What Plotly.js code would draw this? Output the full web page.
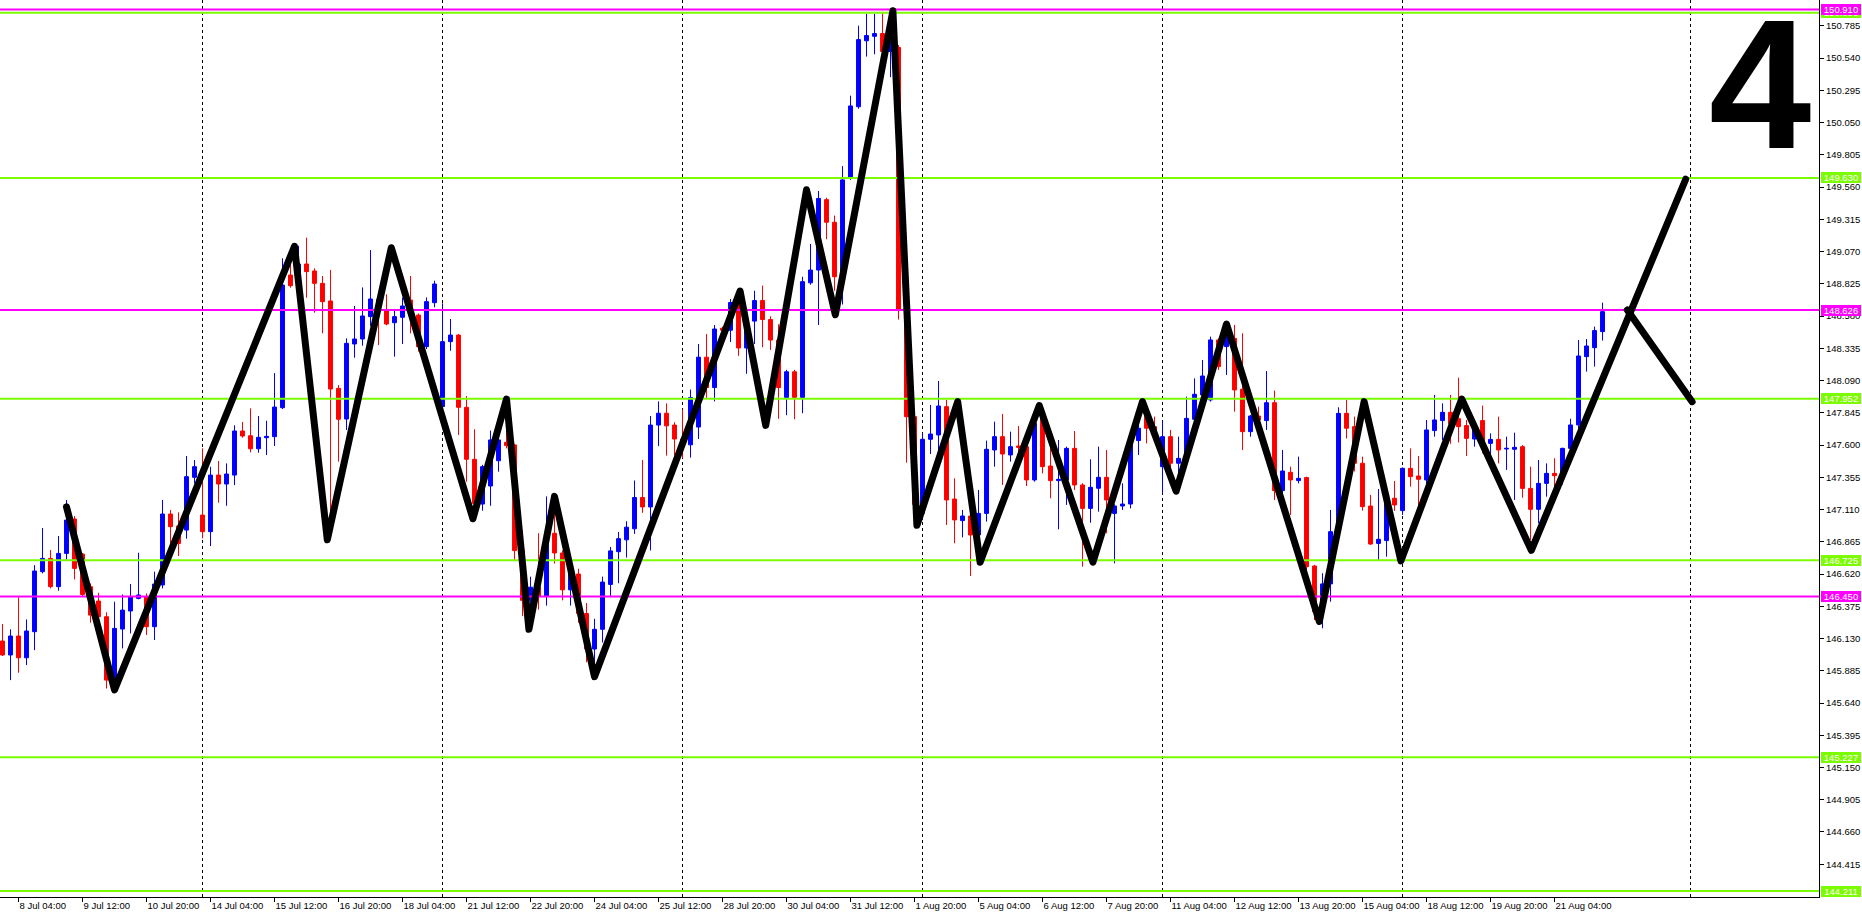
<!DOCTYPE html>
<html>
<head>
<meta charset="utf-8">
<script src="https://cdn.plot.ly/plotly-3.0.1.min.js"></script>
<style>
  html, body { margin: 0; padding: 0; background: #ffffff; }
  #chart { width: 1862px; height: 918px; }
  .scatterlayer .js-line { stroke-linejoin: round !important; stroke-linecap: round !important; }
</style>
</head>
<body>
<div id="chart"></div>
<script>
// ---------------- DATA ----------------
// Time-axis labels, one every 8 H4 bars, first label at bar 0
const tickLabels = ['8 Jul 04:00','9 Jul 12:00','10 Jul 20:00','14 Jul 04:00','15 Jul 12:00','16 Jul 20:00',
  '18 Jul 04:00','21 Jul 12:00','22 Jul 20:00','24 Jul 04:00','25 Jul 12:00','28 Jul 20:00','30 Jul 04:00',
  '31 Jul 12:00','1 Aug 20:00','5 Aug 04:00','6 Aug 12:00','7 Aug 20:00','11 Aug 04:00','12 Aug 12:00',
  '13 Aug 20:00','15 Aug 04:00','18 Aug 12:00','19 Aug 20:00','21 Aug 04:00'];
const barsPerLabel = 8;
const firstBar = -2;   // first visible bar is two bars before "8 Jul 04:00"

// OHLC (bars -2 .. 198)
const open = [
  146.111,146.005,146.149,145.984,146.182,146.638,146.739,146.524,146.777,147.038,
  146.772,146.524,146.415,146.296,145.814,146.202,146.339,146.435,146.448,146.220,
  146.537,147.076,146.985,146.954,147.355,147.068,146.942,147.372,147.304,147.372,
  147.707,147.671,147.572,147.656,147.664,147.884,148.892,148.811,148.976,148.923,
  148.829,148.695,148.031,147.798,148.368,148.406,148.576,148.707,148.619,148.530,
  148.571,148.702,148.588,148.348,148.682,147.892,148.386,148.436,147.887,147.492,
  147.152,147.289,147.481,147.621,147.601,146.800,146.420,146.520,146.450,146.930,
  146.780,146.500,146.620,146.320,146.050,146.200,146.541,146.790,146.880,146.964,
  147.202,147.130,147.752,147.842,147.752,147.646,147.602,147.737,148.268,148.037,
  148.488,148.473,148.683,148.338,148.542,148.698,148.554,148.398,147.962,148.157,
  147.962,148.833,148.930,149.465,149.293,148.879,149.630,150.171,150.672,150.706,
  150.727,150.591,150.621,148.620,147.816,147.081,147.644,147.677,147.892,147.190,
  147.026,147.061,146.917,147.081,147.563,147.664,147.525,147.593,147.588,147.335,
  147.816,147.441,147.330,147.335,147.575,147.297,147.119,147.272,147.355,147.081,
  147.137,147.152,147.634,147.816,147.740,147.436,147.664,147.462,147.499,147.796,
  147.981,147.943,148.399,148.348,148.411,148.024,147.702,147.821,147.786,147.922,
  147.254,147.393,147.330,147.353,146.681,146.334,146.545,146.942,147.841,147.740,
  147.462,147.137,146.853,146.874,147.196,147.102,147.423,147.365,147.335,147.710,
  147.786,147.849,147.800,147.748,147.646,147.786,147.613,147.643,147.570,147.568,
  147.588,147.271,147.112,147.309,147.385,147.385,147.575,147.753,148.272,148.340,
  148.462];
const high = [
  146.240,146.200,146.443,146.275,146.688,146.970,146.802,146.909,147.183,147.061,
  146.780,146.549,146.478,146.329,146.410,146.465,146.544,146.782,146.473,146.638,
  147.183,147.106,147.089,147.517,147.486,147.575,147.436,147.479,147.461,147.750,
  147.775,147.879,147.821,147.785,148.147,149.019,148.981,149.115,149.176,148.943,
  148.885,148.930,148.056,148.411,148.657,148.798,149.082,148.740,148.745,148.619,
  148.720,148.885,148.600,148.722,148.849,148.677,148.558,148.444,147.973,147.720,
  147.450,147.710,147.660,147.943,147.610,146.950,146.600,146.930,147.210,147.080,
  146.800,146.700,146.660,146.400,146.280,146.600,146.826,146.940,147.021,147.331,
  147.487,147.821,147.932,147.917,147.773,147.872,148.022,148.368,148.443,148.512,
  148.500,148.710,148.773,148.600,148.773,148.812,148.578,148.518,148.172,148.172,
  148.879,149.128,149.531,149.480,149.344,149.720,150.255,150.787,150.877,150.877,
  150.892,150.680,150.640,148.630,147.830,147.689,147.905,148.087,147.943,147.347,
  147.107,147.070,147.259,147.634,147.778,147.836,147.702,147.745,147.651,147.841,
  147.892,147.593,147.639,147.588,147.707,147.310,147.492,147.588,147.563,147.150,
  147.310,147.664,147.867,147.841,147.816,147.786,147.715,147.664,147.968,148.107,
  148.247,148.424,148.411,148.475,148.513,148.449,147.829,147.892,148.163,148.014,
  147.563,147.436,147.512,147.360,146.690,146.626,147.107,147.887,147.943,147.816,
  147.512,147.221,147.266,147.190,147.327,147.430,147.575,147.517,147.791,147.981,
  147.917,147.981,148.112,147.791,147.791,147.900,147.689,147.816,147.664,147.694,
  147.600,147.436,147.487,147.461,147.500,147.580,147.800,148.399,148.406,148.500,
  148.682];
const low = [
  145.997,145.814,145.870,145.928,146.042,146.625,146.511,146.493,146.731,146.579,
  146.448,146.250,146.258,145.750,145.740,146.055,146.169,146.428,146.157,146.119,
  146.511,146.752,146.757,146.889,147.309,146.891,146.833,147.162,147.139,147.296,
  147.656,147.545,147.542,147.524,147.593,147.874,148.796,148.778,148.720,148.606,
  148.449,146.930,147.474,147.715,148.264,148.355,148.505,148.360,148.510,148.272,
  148.368,148.449,148.310,148.330,148.647,147.841,148.317,147.677,147.322,147.031,
  147.101,147.139,147.398,147.575,146.727,146.300,146.200,146.350,146.380,146.700,
  146.420,146.380,146.250,145.950,145.840,146.100,146.444,146.550,146.745,146.925,
  147.085,146.799,147.592,147.520,147.520,147.500,147.505,147.646,147.950,147.932,
  148.450,148.383,148.278,148.142,148.368,148.344,148.323,147.800,147.827,147.797,
  147.842,148.818,148.512,149.164,148.773,148.668,149.615,150.156,150.552,150.570,
  150.580,150.396,148.554,147.466,146.990,147.030,147.532,147.563,146.993,146.854,
  146.899,146.605,146.879,147.018,147.436,147.297,147.474,147.500,147.289,147.322,
  147.385,147.196,146.960,147.145,147.259,146.676,147.010,147.094,146.930,146.702,
  147.107,147.119,147.525,147.613,147.639,147.234,147.398,147.246,147.460,147.720,
  147.968,147.930,148.171,148.133,147.854,147.563,147.664,147.730,147.715,147.183,
  147.190,147.069,147.309,146.600,146.270,146.208,146.410,146.900,147.650,147.400,
  147.102,146.841,146.727,146.752,147.100,147.069,147.284,147.107,147.259,147.664,
  147.639,147.610,147.620,147.517,147.588,147.537,147.423,147.461,147.411,147.183,
  147.200,146.879,147.006,147.208,147.259,147.300,147.520,147.700,148.158,148.196,
  148.394];
const close = [
  146.005,146.149,145.984,146.187,146.643,146.739,146.524,146.777,147.030,146.663,
  146.465,146.308,146.296,145.814,146.207,146.346,146.448,146.461,146.220,146.544,
  147.076,146.980,146.853,147.360,147.436,146.942,147.372,147.304,147.380,147.707,
  147.669,147.572,147.659,147.666,147.889,148.816,148.811,148.976,148.918,148.829,
  148.690,148.026,147.796,148.373,148.406,148.581,148.710,148.626,148.520,148.576,
  148.657,148.588,148.348,148.690,148.824,148.386,148.436,147.887,147.492,147.157,
  147.436,147.639,147.639,147.596,146.798,146.420,146.520,146.450,146.930,146.780,
  146.500,146.620,146.320,146.050,146.200,146.559,146.796,146.889,146.976,147.202,
  147.130,147.752,147.842,147.746,147.646,147.600,147.962,148.268,148.037,148.482,
  148.473,148.683,148.338,148.542,148.698,148.554,148.398,148.037,148.157,147.962,
  148.842,148.930,149.474,149.293,148.879,149.615,150.177,150.681,150.712,150.727,
  150.591,150.650,148.623,147.816,147.150,147.644,147.684,147.897,147.183,147.031,
  147.061,146.917,147.081,147.568,147.664,147.532,147.588,147.583,147.335,147.765,
  147.436,147.330,147.340,147.575,147.297,147.119,147.279,147.355,147.183,147.137,
  147.152,147.626,147.728,147.728,147.715,147.664,147.462,147.499,147.803,147.986,
  148.125,148.399,148.196,148.437,148.019,147.702,147.821,147.791,147.922,147.254,
  147.403,147.335,147.347,146.676,146.334,146.545,146.942,147.841,147.728,147.462,
  147.132,146.848,146.884,147.183,147.145,147.423,147.360,147.340,147.715,147.791,
  147.849,147.760,147.740,147.651,147.740,147.613,147.643,147.563,147.575,147.583,
  147.271,147.112,147.309,147.385,147.367,147.575,147.753,148.277,148.353,148.470,
  148.614];

// Right price scale
const priceTicks = [150.785,150.540,150.295,150.050,149.805,149.560,149.315,149.070,148.825,
  148.580,148.335,148.090,147.845,147.600,147.355,147.110,146.865,146.620,146.375,146.130,
  145.885,145.640,145.395,145.150,144.905,144.660,144.415];

// Horizontal levels
const greenLevels = [150.886, 149.630, 147.952, 146.725, 145.227, 144.211];
const magentaLevels = [150.910, 148.626, 146.450];

// Zig-zag (bar position, price)
const zigzagBar = [6, 12, 34.5, 38.6, 46.6, 56.8, 61, 63.8, 67, 72, 90.2, 93.4, 98.5, 102.1, 109.3,
  112.3, 117.4, 120.2, 127.6, 134.3, 140.5, 144.7, 151, 162.6, 168.2, 172.8, 180.4, 189.1, 208.4];
const zigzagPrice = [147.13, 145.74, 149.11, 146.88, 149.10, 147.04, 147.95, 146.20, 147.21, 145.84,
  148.77, 147.75, 149.54, 148.59, 150.90, 146.99, 147.93, 146.71, 147.90, 146.71, 147.93, 147.25,
  148.52, 146.26, 147.93, 146.72, 147.95, 146.80, 149.62];
const branchBar = [201.1, 209.2];
const branchPrice = [148.626, 147.93];

// Weekly period separators (bar positions)
const separatorBars = [23, 53, 83, 113, 143, 173, 209];

const bigLabel = '4';

// ---------------- STYLE / VIEW ----------------
const BLUE = '#0000FF', RED = '#FF0000', GREEN = '#7CFC00', MAGENTA = '#FF00FF';
const X_RANGE = [-2.3125, 225.06];
const Y_RANGE = [144.166, 150.982];
const FONT = 'Liberation Sans, Arial, sans-serif';

const bars = open.map((_, i) => i + firstBar);
const tickBars = tickLabels.map((_, j) => j * barsPerLabel);

const traces = [];
traces.push({
  type: 'candlestick',
  x: bars, open: open, high: high, low: low, close: close,
  increasing: { line: { color: BLUE, width: 1 }, fillcolor: BLUE },
  decreasing: { line: { color: RED, width: 1 }, fillcolor: RED },
  whiskerwidth: 0,
  hoverinfo: 'skip',
  showlegend: false
});

greenLevels.forEach(p => traces.push({
  type: 'scatter', mode: 'lines', x: [X_RANGE[0] - 5, X_RANGE[1] + 5], y: [p, p],
  line: { color: GREEN, width: 2 }, hoverinfo: 'skip', showlegend: false
}));
magentaLevels.forEach(p => traces.push({
  type: 'scatter', mode: 'lines', x: [X_RANGE[0] - 5, X_RANGE[1] + 5], y: [p, p],
  line: { color: MAGENTA, width: 2 }, hoverinfo: 'skip', showlegend: false
}));

traces.push({
  type: 'scatter', mode: 'lines', x: zigzagBar, y: zigzagPrice,
  line: { color: '#000000', width: 7 }, hoverinfo: 'skip', showlegend: false
});
traces.push({
  type: 'scatter', mode: 'lines', x: branchBar, y: branchPrice,
  line: { color: '#000000', width: 7 }, hoverinfo: 'skip', showlegend: false
});

const shapes = separatorBars.map(b => ({
  type: 'line', xref: 'x', yref: 'paper', x0: b, x1: b, y0: 0, y1: 1,
  line: { color: '#000000', width: 1, dash: '3px,3px' }, layer: 'below'
}));

const annotations = [];
function priceLabel(p, color) {
  annotations.push({
    xref: 'paper', yref: 'y', x: 1, y: p, xanchor: 'left', yanchor: 'middle', xshift: 2,
    text: p.toFixed(3), showarrow: false, bgcolor: color, borderpad: 1, borderwidth: 0,
    width: 38, height: 9, align: 'center', valign: 'middle',
    font: { family: FONT, size: 9.5, color: '#ffffff' }
  });
}
greenLevels.forEach(p => priceLabel(p, GREEN));
magentaLevels.forEach(p => priceLabel(p, MAGENTA));

annotations.push({
  xref: 'paper', yref: 'paper', x: 1760 / 1819, y: 1 - 84 / 897, xanchor: 'center', yanchor: 'middle',
  text: '<b>' + bigLabel + '</b>', showarrow: false,
  font: { family: FONT, size: 184, color: '#000000' }
});

const layout = {
  width: 1862, height: 918,
  margin: { l: 0, r: 43, t: 0, b: 21, pad: 0 },
  paper_bgcolor: '#ffffff', plot_bgcolor: '#ffffff',
  showlegend: false, hovermode: false, dragmode: false,
  xaxis: {
    type: 'linear', range: X_RANGE, rangeslider: { visible: false },
    tickmode: 'array', tickvals: tickBars, ticktext: tickLabels,
    ticks: 'outside', ticklen: 4, tickcolor: '#000000', tickwidth: 1,
    ticklabelposition: 'outside right', tickangle: 0,
    showgrid: false, zeroline: false,
    showline: true, linecolor: '#000000', linewidth: 1,
    tickfont: { family: FONT, size: 9.5, color: '#000000' },
    fixedrange: true
  },
  yaxis: {
    side: 'right', range: Y_RANGE,
    tickmode: 'array', tickvals: priceTicks, ticktext: priceTicks.map(v => v.toFixed(3)),
    ticks: 'outside', ticklen: 4, tickcolor: '#000000', tickwidth: 1,
    showgrid: false, zeroline: false,
    showline: true, linecolor: '#000000', linewidth: 1,
    tickfont: { family: FONT, size: 9.5, color: '#000000' },
    fixedrange: true
  },
  shapes: shapes,
  annotations: annotations
};

Plotly.newPlot('chart', traces, layout, { staticPlot: true, displayModeBar: false });
</script>
</body>
</html>
